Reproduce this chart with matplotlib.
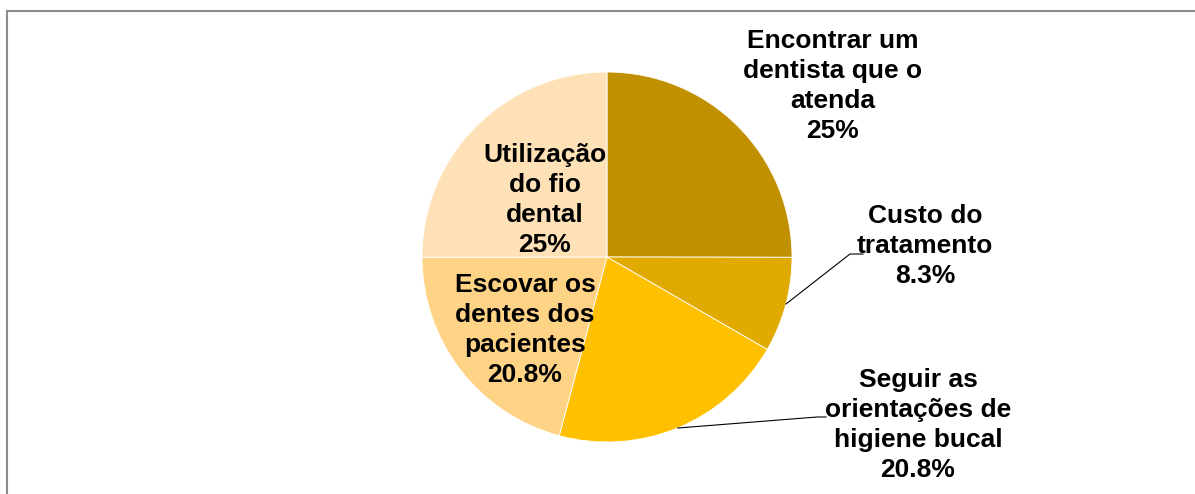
import matplotlib.pyplot as plt

categorias = ["Encontrar um\ndentista que o\natenda", "Custo do\ntratamento",
              "Seguir as\norientações de\nhigiene bucal", "Escovar os\ndentes dos\npacientes",
              "Utilização\ndo fio\ndental"]
valores = [25, 8.3, 20.8, 20.8, 25]
cores = ["#C09000", "#E1AA00", "#FFC000", "#FFD386", "#FFE1B7"]

# posicoes dos rotulos (pixels, origem embaixo)
pos_rotulos = [(833, 494 - 86), (925, 494 - 246), (918, 494 - 425), (525, 494 - 330), (545, 494 - 200)]

plt.rcParams['font.family'] = ['Liberation Sans', 'DejaVu Sans']

fig = plt.figure(figsize=(11.95, 4.94), dpi=100)
ax = fig.add_axes([0, 0, 1, 1])
ax.set_xlim(0, 1195)
ax.set_ylim(0, 494)
ax.set_aspect('equal')
ax.axis('off')

ax.pie(valores, colors=cores, startangle=90, counterclock=False,
       center=(607, 494 - 257), radius=185,
       wedgeprops=dict(edgecolor='white', linewidth=0.6))
ax.set_xlim(0, 1195)
ax.set_ylim(0, 494)

for cat, v, (x, y) in zip(categorias, valores, pos_rotulos):
    txt = f"{v:g}%"
    ax.text(x, y, cat + "\n" + txt, ha='center', va='center', fontsize=19,
            fontweight='bold', linespacing=1.31, color='black')

# linhas de chamada
ax.plot([786, 850, 863], [494 - 304, 494 - 254, 494 - 254], color='black', lw=0.8)
ax.plot([678, 817, 826], [494 - 428, 494 - 417, 494 - 417], color='black', lw=0.8)

# borda
ax.plot([7, 1195], [494 - 11, 494 - 11], color='#8c8c8c', lw=1.5)
ax.plot([7, 7], [494 - 11, 0], color='#8c8c8c', lw=1.5)

fig.savefig("out.png", dpi=100)
